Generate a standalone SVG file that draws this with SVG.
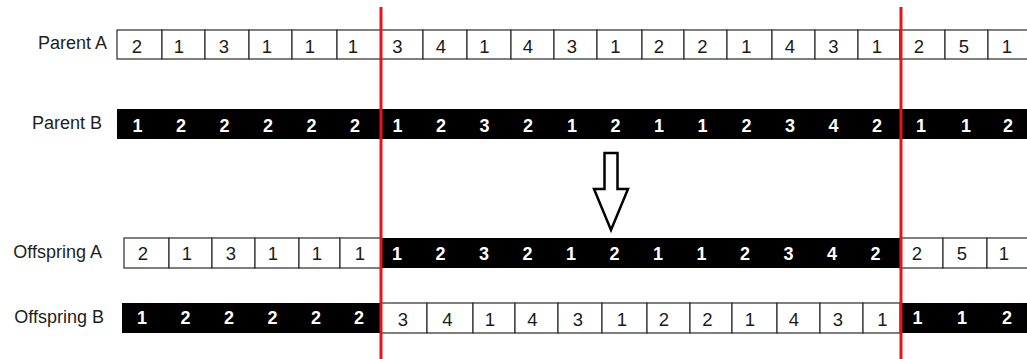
<svg xmlns="http://www.w3.org/2000/svg" width="1027" height="359" viewBox="0 0 1027 359">
<style>
.lbl{font-family:"Liberation Sans",Arial,sans-serif;font-size:18px;fill:#1e1e1e;text-anchor:end}
.cw{fill:#fff;stroke:#2a2a2a;stroke-width:1.2}
.cb{fill:#000}
.tw{font-family:"Liberation Sans",Arial,sans-serif;font-size:18.5px;fill:#1a1a1a;text-anchor:middle}
.tb{font-family:"Liberation Sans",Arial,sans-serif;font-size:18px;font-weight:bold;fill:#fff;text-anchor:middle}
.cut{stroke:#e8141c;stroke-width:3}
.arrow{fill:#fff;stroke:#000;stroke-width:2.5;stroke-linejoin:miter}
</style>
<rect width="1027" height="359" fill="#fff"/>

<g id="parent-a">
<text class="lbl" x="107" y="49">Parent A</text>
<g>
<rect class="cw" x="117" y="30" width="45" height="29"/><rect class="cw" x="162" y="30" width="43" height="29"/><rect class="cw" x="205" y="30" width="44" height="29"/><rect class="cw" x="249" y="30" width="43" height="29"/><rect class="cw" x="292" y="30" width="45" height="29"/><rect class="cw" x="337" y="30" width="44" height="29"/>
<rect class="cw" x="381" y="30" width="42" height="29"/><rect class="cw" x="423" y="30" width="44" height="29"/><rect class="cw" x="467" y="30" width="44" height="29"/><rect class="cw" x="511" y="30" width="43" height="29"/><rect class="cw" x="554" y="30" width="43" height="29"/><rect class="cw" x="597" y="30" width="45" height="29"/><rect class="cw" x="642" y="30" width="42" height="29"/><rect class="cw" x="684" y="30" width="43" height="29"/><rect class="cw" x="727" y="30" width="45" height="29"/><rect class="cw" x="772" y="30" width="43" height="29"/><rect class="cw" x="815" y="30" width="43" height="29"/><rect class="cw" x="858" y="30" width="42" height="29"/>
<rect class="cw" x="900" y="30" width="45" height="29"/><rect class="cw" x="945" y="30" width="43" height="29"/><rect class="cw" x="988" y="30" width="45" height="29"/>
</g>
<g>
<text class="tw" x="137" y="52.5">2</text><text class="tw" x="179" y="52.5">1</text><text class="tw" x="224" y="52.5">3</text><text class="tw" x="267" y="52.5">1</text><text class="tw" x="310" y="52.5">1</text><text class="tw" x="353" y="52.5">1</text>
<text class="tw" x="397.5" y="52.5">3</text><text class="tw" x="441" y="52.5">4</text><text class="tw" x="484.5" y="52.5">1</text><text class="tw" x="528" y="52.5">4</text><text class="tw" x="572" y="52.5">3</text><text class="tw" x="615.5" y="52.5">1</text><text class="tw" x="659" y="52.5">2</text><text class="tw" x="702.5" y="52.5">2</text><text class="tw" x="746.5" y="52.5">1</text><text class="tw" x="790" y="52.5">4</text><text class="tw" x="833.5" y="52.5">3</text><text class="tw" x="877" y="52.5">1</text>
<text class="tw" x="919" y="52.5">2</text><text class="tw" x="964" y="52.5">5</text><text class="tw" x="1007" y="52.5">1</text>
</g>
</g>

<g id="parent-b">
<text class="lbl" x="102" y="128.5">Parent B</text>
<rect class="cb" x="117" y="109" width="913" height="30"/>
<g>
<text class="tb" x="137.5" y="131.5">1</text><text class="tb" x="181" y="131.5">2</text><text class="tb" x="224.5" y="131.5">2</text><text class="tb" x="268" y="131.5">2</text><text class="tb" x="311.5" y="131.5">2</text><text class="tb" x="355" y="131.5">2</text>
<text class="tb" x="397.5" y="131.5">1</text><text class="tb" x="441" y="131.5">2</text><text class="tb" x="484.5" y="131.5">3</text><text class="tb" x="528" y="131.5">2</text><text class="tb" x="572" y="131.5">1</text><text class="tb" x="615.5" y="131.5">2</text><text class="tb" x="659" y="131.5">1</text><text class="tb" x="702.5" y="131.5">1</text><text class="tb" x="746.5" y="131.5">2</text><text class="tb" x="790" y="131.5">3</text><text class="tb" x="833.5" y="131.5">4</text><text class="tb" x="877" y="131.5">2</text>
<text class="tb" x="921" y="131.5">1</text><text class="tb" x="966" y="131.5">1</text><text class="tb" x="1008" y="131.5">2</text>
</g>
</g>

<g id="offspring-a">
<text class="lbl" x="102" y="258">Offspring A</text>
<g>
<rect class="cw" x="124" y="238" width="45" height="30"/><rect class="cw" x="169" y="238" width="43" height="30"/><rect class="cw" x="212" y="238" width="43" height="30"/><rect class="cw" x="255" y="238" width="44" height="30"/><rect class="cw" x="299" y="238" width="41" height="30"/><rect class="cw" x="340" y="238" width="41" height="30"/>
<rect class="cb" x="381" y="238" width="519" height="30"/>
<rect class="cw" x="900" y="238" width="43" height="30"/><rect class="cw" x="943" y="238" width="44" height="30"/><rect class="cw" x="987" y="238" width="45" height="30"/>
</g>
<g>
<text class="tw" x="143" y="260">2</text><text class="tw" x="187" y="260">1</text><text class="tw" x="231" y="260">3</text><text class="tw" x="273" y="260">1</text><text class="tw" x="317" y="260">1</text><text class="tw" x="360" y="260">1</text>
<text class="tb" x="397" y="260">1</text><text class="tb" x="440.5" y="260">2</text><text class="tb" x="484" y="260">3</text><text class="tb" x="527.5" y="260">2</text><text class="tb" x="571" y="260">1</text><text class="tb" x="614.5" y="260">2</text><text class="tb" x="658" y="260">1</text><text class="tb" x="701.5" y="260">1</text><text class="tb" x="745" y="260">2</text><text class="tb" x="788.5" y="260">3</text><text class="tb" x="832" y="260">4</text><text class="tb" x="875.5" y="260">2</text>
<text class="tw" x="917" y="260">2</text><text class="tw" x="962" y="260">5</text><text class="tw" x="1004" y="260">1</text>
</g>
</g>

<g id="offspring-b">
<text class="lbl" x="104" y="323">Offspring B</text>
<g>
<rect class="cb" x="122" y="303" width="259" height="30"/>
<rect class="cw" x="381" y="303" width="46" height="30"/><rect class="cw" x="427" y="303" width="46" height="30"/><rect class="cw" x="473" y="303" width="42" height="30"/><rect class="cw" x="515" y="303" width="43" height="30"/><rect class="cw" x="558" y="303" width="44" height="30"/><rect class="cw" x="602" y="303" width="45" height="30"/><rect class="cw" x="647" y="303" width="43" height="30"/><rect class="cw" x="690" y="303" width="42" height="30"/><rect class="cw" x="732" y="303" width="45" height="30"/><rect class="cw" x="777" y="303" width="43" height="30"/><rect class="cw" x="820" y="303" width="43" height="30"/><rect class="cw" x="863" y="303" width="37" height="30"/>
<rect class="cb" x="900" y="303" width="130" height="30"/>
</g>
<g>
<text class="tb" x="142" y="323.5">1</text><text class="tb" x="185.5" y="323.5">2</text><text class="tb" x="229" y="323.5">2</text><text class="tb" x="272.5" y="323.5">2</text><text class="tb" x="316" y="323.5">2</text><text class="tb" x="359" y="323.5">2</text>
<text class="tw" x="403" y="325.5">3</text><text class="tw" x="447.5" y="325.5">4</text><text class="tw" x="490" y="325.5">1</text><text class="tw" x="532.5" y="325.5">4</text><text class="tw" x="578" y="325.5">3</text><text class="tw" x="622" y="325.5">1</text><text class="tw" x="664" y="325.5">2</text><text class="tw" x="707.5" y="325.5">2</text><text class="tw" x="750" y="325.5">1</text><text class="tw" x="794" y="325.5">4</text><text class="tw" x="838" y="325.5">3</text><text class="tw" x="882.5" y="325.5">1</text>
<text class="tb" x="917.5" y="323.5">1</text><text class="tb" x="962" y="323.5">1</text><text class="tb" x="1007" y="323.5">2</text>
</g>
</g>

<g id="cut-points">
<line class="cut" x1="381" y1="7" x2="381" y2="359"/>
<line class="cut" x1="901" y1="7" x2="901" y2="359"/>
</g>

<g id="connectors">
<polygon class="arrow" points="604.5,153 617.5,153 617.5,189 628,189 611,230 594,189 604.5,189"/>
</g>
</svg>
